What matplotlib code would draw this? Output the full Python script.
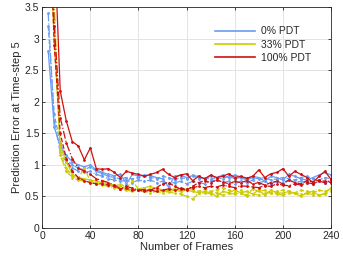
import matplotlib
matplotlib.use("Agg")
import matplotlib.pyplot as plt

plt.rcParams["font.family"] = ["Liberation Sans", "DejaVu Sans"]

frames = list(range(5, 241, 5))

# 100% PDT runs
red_a = [7.0, 4.6, 2.17, 1.7, 1.37, 1.3, 1.08, 1.27,
         0.94, 0.93, 0.94, 0.88, 0.80, 0.90, 0.87, 0.85,
         0.82, 0.85, 0.88, 0.93, 0.85, 0.80, 0.84, 0.86,
         0.75, 0.82, 0.78, 0.84, 0.80, 0.82, 0.86, 0.80,
         0.82, 0.79, 0.82, 0.92, 0.80, 0.86, 0.88, 0.94,
         0.82, 0.90, 0.85, 0.80, 0.72, 0.82, 0.90, 0.77]
red_b = [6.0, 3.2, 1.75, 1.35, 1.1, 0.95, 0.90, 0.85,
         0.78, 0.75, 0.72, 0.68, 0.62, 0.66, 0.63, 0.60,
         0.61, 0.60, 0.58, 0.60, 0.62, 0.60, 0.63, 0.62,
         0.64, 0.66, 0.64, 0.66, 0.65, 0.68, 0.66, 0.64,
         0.67, 0.66, 0.65, 0.64, 0.67, 0.66, 0.70, 0.68,
         0.67, 0.70, 0.68, 0.72, 0.70, 0.74, 0.72, 0.76]
red_c = [5.5, 2.9, 1.5, 1.1, 0.90, 0.80, 0.75, 0.72,
         0.70, 0.70, 0.68, 0.66, 0.62, 0.63, 0.60, 0.60,
         0.58, 0.60, 0.64, 0.70, 0.72, 0.66, 0.62, 0.60,
         0.66, 0.72, 0.75, 0.72, 0.76, 0.73, 0.70, 0.74,
         0.72, 0.75, 0.70, 0.72, 0.68, 0.72, 0.74, 0.70,
         0.76, 0.72, 0.70, 0.75, 0.73, 0.76, 0.74, 0.72]

# 0% PDT runs
blue_a = [2.8, 1.6, 1.3, 1.15, 1.05, 1.0, 0.97, 1.0,
          0.92, 0.88, 0.85, 0.83, 0.85, 0.70, 0.85, 0.82,
          0.84, 0.83, 0.80, 0.78, 0.65, 0.82, 0.84, 0.80,
          0.83, 0.82, 0.78, 0.82, 0.80, 0.84, 0.80, 0.84,
          0.81, 0.78, 0.82, 0.80, 0.74, 0.82, 0.80, 0.76,
          0.85, 0.82, 0.78, 0.76, 0.80, 0.84, 0.88, 0.84]
blue_b = [3.2, 1.8, 1.35, 1.1, 1.0, 0.95, 0.92, 0.97,
          0.90, 0.86, 0.82, 0.80, 0.78, 0.80, 0.78, 0.80,
          0.82, 0.80, 0.78, 0.82, 0.80, 0.76, 0.80, 0.78,
          0.84, 0.78, 0.80, 0.77, 0.80, 0.78, 0.82, 0.78,
          0.80, 0.76, 0.80, 0.78, 0.80, 0.76, 0.78, 0.80,
          0.78, 0.76, 0.80, 0.82, 0.78, 0.76, 0.80, 0.78]
blue_c = [3.4, 1.7, 1.2, 1.05, 0.95, 0.90, 0.88, 0.90,
          0.85, 0.82, 0.78, 0.76, 0.74, 0.76, 0.72, 0.76,
          0.74, 0.76, 0.72, 0.74, 0.70, 0.72, 0.74, 0.70,
          0.74, 0.72, 0.70, 0.74, 0.76, 0.72, 0.74, 0.70,
          0.74, 0.72, 0.76, 0.72, 0.74, 0.70, 0.74, 0.72,
          0.76, 0.72, 0.74, 0.72, 0.70, 0.74, 0.72, 0.74]

# 33% PDT runs
yel_a = [5.0, 3.0, 1.3, 1.05, 0.85, 0.80, 0.78, 0.76,
         0.74, 0.72, 0.70, 0.68, 0.66, 0.62, 0.60, 0.62,
         0.64, 0.66, 0.62, 0.58, 0.60, 0.62, 0.58, 0.60,
         0.58, 0.56, 0.58, 0.56, 0.50, 0.58, 0.56, 0.60,
         0.56, 0.58, 0.54, 0.60, 0.52, 0.60, 0.56, 0.55,
         0.58, 0.55, 0.50, 0.56, 0.58, 0.52, 0.55, 0.64]
yel_b = [5.5, 3.3, 1.2, 0.95, 0.82, 0.78, 0.95, 0.74,
         0.72, 0.70, 0.68, 0.66, 0.70, 0.64, 0.74, 0.62,
         0.60, 0.62, 0.64, 0.60, 0.57, 0.60, 0.58, 0.62,
         0.60, 0.58, 0.62, 0.58, 0.60, 0.64, 0.60, 0.56,
         0.60, 0.52, 0.62, 0.58, 0.60, 0.56, 0.58, 0.60,
         0.58, 0.56, 0.60, 0.58, 0.56, 0.60, 0.58, 0.62]
yel_c = [6.0, 3.6, 1.15, 0.90, 0.80, 0.76, 0.74, 0.72,
         0.70, 0.68, 0.66, 0.64, 0.62, 0.60, 0.58, 0.60,
         0.58, 0.56, 0.58, 0.56, 0.58, 0.55, 0.54, 0.50,
         0.46, 0.55, 0.56, 0.54, 0.56, 0.52, 0.55, 0.54,
         0.56, 0.50, 0.54, 0.52, 0.55, 0.56, 0.54, 0.52,
         0.55, 0.56, 0.54, 0.55, 0.53, 0.52, 0.54, 0.58]

BLUE, YEL, RED = "#6a9cf0", "#cccc00", "#d01010"
DARK = "#262626"

fig = plt.figure(figsize=(3.43, 2.63), dpi=100)
ax = fig.add_axes([0.123, 0.133, 0.842, 0.84])

runs = [
    (blue_a, BLUE, "-"), (blue_b, BLUE, "--"), (blue_c, BLUE, "-."),
    (yel_a, YEL, "-"), (yel_b, YEL, "--"), (yel_c, YEL, "-."),
    (red_b, RED, "-."), (red_c, RED, "--"), (red_a, RED, "-"),
]
for ys, c, ls in runs:
    ax.plot(frames, ys, color=c, ls=ls, lw=0.9, marker=".", ms=2.0)

# legend handles
ax.plot([], [], color=BLUE, lw=1.2, label="0% PDT")
ax.plot([], [], color=YEL, lw=1.2, label="33% PDT")
ax.plot([], [], color=RED, lw=1.2, label="100% PDT")
h, l = ax.get_legend_handles_labels()
ax.legend(h, l, loc="upper right", bbox_to_anchor=(0.962, 0.955), frameon=False,
          fontsize=7.5, handlelength=3.9, handletextpad=0.5, labelspacing=0.3,
          labelcolor=DARK)

ax.set_xlim(0, 240)
ax.set_ylim(0, 3.5)
ax.set_xticks([0, 40, 80, 120, 160, 200, 240])
ax.set_yticks([0, 0.5, 1, 1.5, 2, 2.5, 3, 3.5])
ax.set_yticklabels(["0", "0.5", "1", "1.5", "2", "2.5", "3", "3.5"])
ax.grid(True, color="#e3e3e3", lw=0.7)
ax.set_axisbelow(True)
ax.tick_params(direction="in", top=True, right=True, labelsize=7.5,
               colors=DARK, length=2.5, width=0.6, pad=2)
for s in ax.spines.values():
    s.set_color(DARK)
    s.set_linewidth(0.6)
ax.set_xlabel("Number of Frames", fontsize=8, color=DARK, labelpad=1)
ax.set_ylabel("Prediction Error at Time-step 5", fontsize=8, color=DARK, labelpad=2)

fig.savefig("out.png", dpi=100)
